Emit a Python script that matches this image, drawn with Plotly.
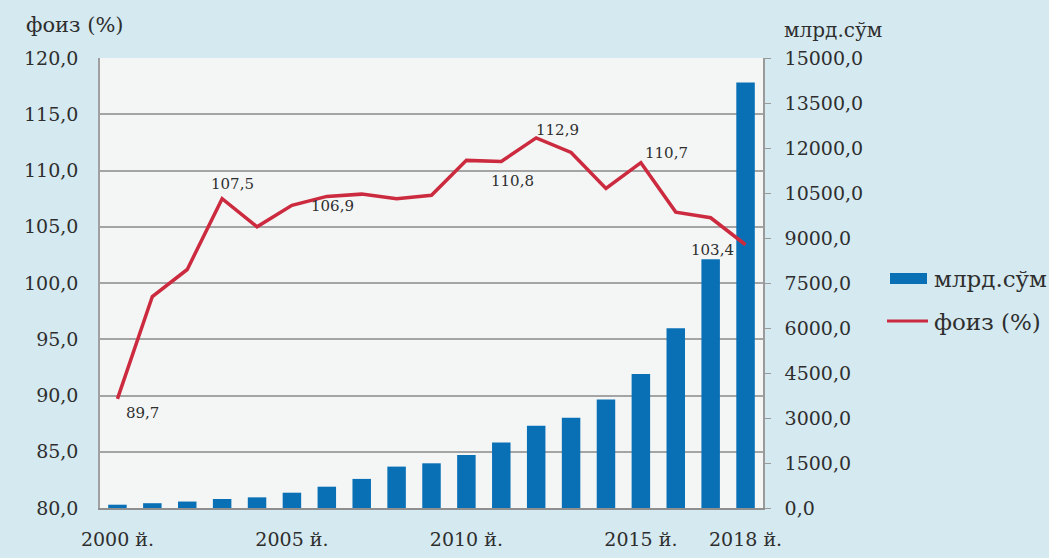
import plotly.graph_objects as go

# Years shown on the horizontal axis
years = list(range(2000, 2019))

# Annual amount, billion sum (bars, right axis)
amount = [110, 160, 215, 300, 355, 510, 710, 970, 1380, 1490,
          1770, 2180, 2745, 3010, 3620, 4470, 5990, 8290, 14180]

# Growth rate, percent (line, left axis)
rate = [89.7, 98.8, 101.2, 107.5, 105.0, 106.9, 107.7, 107.9, 107.5, 107.8,
        110.9, 110.8, 112.9, 111.6, 108.4, 110.7, 106.3, 105.8, 103.4]

# Years whose rate is written next to the line
label_years = [2000, 2003, 2005, 2011, 2012, 2015, 2018]
# Pixel offsets of those labels from their points
label_shift = {2000: (25, -14), 2003: (10, 15), 2005: (41, -1), 2011: (11, -19),
               2012: (21, 8), 2015: (26, 10), 2018: (-33, -5)}

tick_years = [2000, 2005, 2010, 2015, 2018]
tick_text = [f"{y} й." for y in tick_years]

FONT = "DejaVu Serif"
TXT = "#2e2e2e"
BLUE = "#0a70b6"
RED = "#cc2a3e"

W, H = 1049, 558
ML, MR, MT, MB = 100, 286, 58, 50
PW, PH = W - ML - MR, H - MT - MB


def px(x):
    """Figure pixel column -> paper x."""
    return (x - ML) / PW


def py(y):
    """Figure pixel row (from top) -> paper y."""
    return (H - MB - y) / PH


fig = go.Figure()
fig.add_trace(go.Bar(x=years, y=amount, yaxis="y", name="млрд.сўм",
                     marker=dict(color=BLUE, line=dict(width=0)),
                     showlegend=False))
fig.add_trace(go.Scatter(x=years, y=rate, yaxis="y2", name="фоиз (%)",
                         mode="lines", line=dict(color=RED, width=3.5),
                         showlegend=False))

annotations = []
for yr in label_years:
    v = rate[years.index(yr)]
    dx, dy = label_shift[yr]
    annotations.append(dict(x=yr, y=v, xref="x", yref="y2",
                            text=f"{v:.1f}".replace(".", ","),
                            showarrow=False, xshift=dx, yshift=dy,
                            xanchor="center", yanchor="middle",
                            font=dict(family=FONT, size=15, color=TXT)))

# Axis titles
annotations.append(dict(x=px(75), y=py(25), xref="paper", yref="paper",
                        text="фоиз (%)", showarrow=False,
                        xanchor="center", yanchor="middle",
                        font=dict(family=FONT, size=21, color=TXT)))
annotations.append(dict(x=px(833), y=py(30), xref="paper", yref="paper",
                        text="млрд.сўм", showarrow=False,
                        xanchor="center", yanchor="middle",
                        font=dict(family=FONT, size=20, color=TXT)))

# Legend entries
annotations.append(dict(x=px(932), y=py(279), xref="paper", yref="paper",
                        text="млрд.сўм", showarrow=False,
                        xanchor="left", yanchor="middle",
                        font=dict(family=FONT, size=23, color=TXT)))
annotations.append(dict(x=px(932), y=py(322), xref="paper", yref="paper",
                        text="фоиз (%)", showarrow=False,
                        xanchor="left", yanchor="middle",
                        font=dict(family=FONT, size=23, color=TXT)))

shapes = [
    dict(type="rect", xref="paper", yref="paper",
         x0=px(890), x1=px(927), y0=py(284), y1=py(273),
         fillcolor=BLUE, line=dict(width=0)),
    dict(type="line", xref="paper", yref="paper",
         x0=px(887), x1=px(928), y0=py(321), y1=py(321),
         line=dict(color=RED, width=3)),
]

fig.update_layout(
    width=W, height=H,
    margin=dict(l=ML, r=MR, t=MT, b=MB, pad=0, autoexpand=False),
    paper_bgcolor="#d5e9f0",
    plot_bgcolor="#f4f6f6",
    separators=",.",
    bargap=0.47,
    font=dict(family=FONT, size=19, color=TXT),
    xaxis=dict(range=[1999.5, 2018.5], tickvals=tick_years, ticktext=tick_text,
               showgrid=False, zeroline=False, showline=True, automargin=False,
               linecolor="#8f8f8f", linewidth=1.5, ticks="",
               ticklabelstandoff=13, tickfont=dict(family=FONT, size=19, color=TXT)),
    yaxis=dict(side="right", range=[0, 15000], dtick=1500, tickformat=".1f",
               showgrid=False, zeroline=False, showline=True, automargin=False,
               linecolor="#9a9a9a", linewidth=1.5, ticks="outside", ticklen=6,
               tickcolor="#9a9a9a", ticklabelstandoff=10,
               tickfont=dict(family=FONT, size=19, color=TXT)),
    yaxis2=dict(side="left", overlaying="y", range=[80, 120], dtick=5,
                tickformat=".1f", showgrid=True, gridcolor="#a4a4a4",
                gridwidth=1.5, zeroline=False, showline=True, automargin=False,
                linecolor="#a0a0a0", linewidth=1.5, ticks="",
                ticklabelstandoff=16,
                tickfont=dict(family=FONT, size=19, color=TXT)),
    annotations=annotations,
    shapes=shapes,
    showlegend=False,
)

fig.write_html("out.html")
